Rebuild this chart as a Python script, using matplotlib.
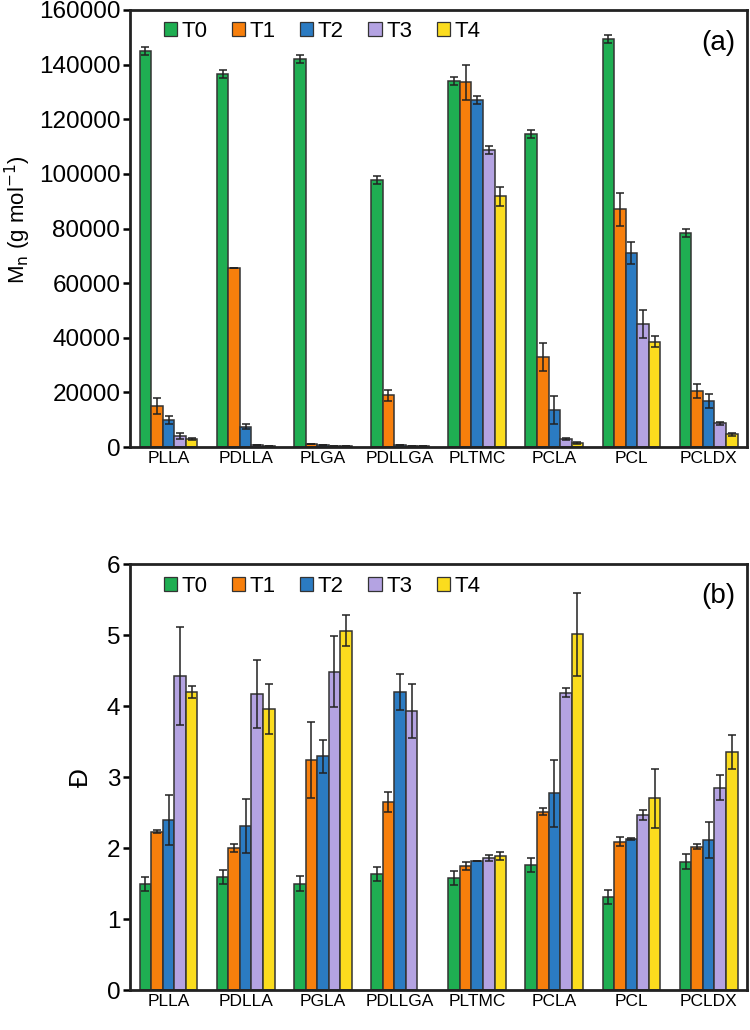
import numpy as np
import matplotlib
matplotlib.use("Agg")
import matplotlib.pyplot as plt

plt.rcParams['font.family'] = ['Liberation Sans', 'DejaVu Sans']

# data
series = ["T0", "T1", "T2", "T3", "T4"]
colors = ["#1fae52", "#f77f0c", "#2b7bc2", "#b4a3e2", "#fbdc1e"]

mn_groups = ["PLLA", "PDLLA", "PLGA", "PDLLGA", "PLTMC", "PCLA", "PCL", "PCLDX"]
mn_vals = [
    [145000, 136500, 142000, 97700, 134000, 114600, 149300, 78300],   # T0
    [15000, 65500, 1200, 19000, 133500, 33000, 87000, 20500],          # T1
    [9800, 7500, 900, 600, 127000, 13500, 71000, 16800],               # T2
    [4000, 600, 500, 300, 108700, 2900, 45000, 8700],                  # T3
    [3000, 300, 300, 200, 91800, 1500, 38500, 4700],                   # T4
]
mn_err = [
    [1500, 1500, 1500, 1500, 1500, 1500, 1500, 1500],
    [3000, 0, 0, 2000, 6500, 5000, 6000, 2500],
    [1500, 1000, 0, 0, 1500, 5000, 4000, 2500],
    [1000, 0, 0, 0, 1500, 500, 5000, 500],
    [300, 0, 0, 0, 3500, 300, 2000, 500],
]

d_groups = ["PLLA", "PDLLA", "PGLA", "PDLLGA", "PLTMC", "PCLA", "PCL", "PCLDX"]
d_vals = [
    [1.49, 1.59, 1.50, 1.63, 1.58, 1.76, 1.31, 1.81],
    [2.23, 2.00, 3.24, 2.65, 1.75, 2.51, 2.09, 2.02],
    [2.39, 2.31, 3.29, 4.20, 1.82, 2.77, 2.13, 2.11],
    [4.42, 4.17, 4.48, 3.93, 1.86, 4.19, 2.46, 2.85],
    [4.20, 3.96, 5.06, np.nan, 1.89, 5.01, 2.70, 3.35],
]
d_err = [
    [0.10, 0.10, 0.10, 0.10, 0.10, 0.10, 0.10, 0.10],
    [0.02, 0.06, 0.54, 0.14, 0.06, 0.05, 0.06, 0.03],
    [0.35, 0.38, 0.23, 0.25, 0.00, 0.47, 0.01, 0.25],
    [0.69, 0.48, 0.50, 0.38, 0.04, 0.06, 0.07, 0.18],
    [0.08, 0.35, 0.22, 0.00, 0.06, 0.58, 0.42, 0.24],
]

fig = plt.figure(figsize=(7.5, 10.3), dpi=100)
ax1 = fig.add_axes([0.1733, 0.566, 0.823, 0.4243])
ax2 = fig.add_axes([0.1733, 0.0388, 0.823, 0.4136])

width = 0.15


def draw(ax, groups, vals, errs, ymax, yticks, tag):
    x = np.arange(len(groups))
    for i, s in enumerate(series):
        pos = x + (i - 2) * width
        ax.bar(pos, vals[i], width, color=colors[i], edgecolor="#333333",
               linewidth=1.1, label=s, zorder=2)
        ax.errorbar(pos, vals[i], yerr=errs[i], fmt="none", ecolor="#222222",
                    elinewidth=1.1, capsize=3, capthick=1.1, zorder=3)
    ax.set_xlim(-0.5, len(groups) - 0.5)
    ax.set_ylim(0, ymax)
    ax.set_yticks(yticks)
    ax.set_xticks(x)
    ax.set_xticklabels(groups, fontsize=12.5)
    ax.tick_params(axis="x", length=0, pad=3)
    ax.tick_params(axis="y", labelsize=17.5, length=5, width=1.8, pad=2)
    for sp in ax.spines.values():
        sp.set_linewidth(2.0)
        sp.set_color("#222222")
    leg = ax.legend(loc="upper left", bbox_to_anchor=(0.022, 1.02), ncol=5,
                    frameon=False, fontsize=16, handlelength=0.6,
                    handleheight=0.6, handletextpad=0.2, columnspacing=1.1)
    for h in leg.legend_handles:
        h.set_linewidth(0.9)
    ax.text(0.98, 0.955, tag, transform=ax.transAxes, ha="right", va="top",
            fontsize=20)


draw(ax1, mn_groups, mn_vals, mn_err, 160000,
     np.arange(0, 160001, 20000), "(a)")
ax1.set_ylabel("M$_\\mathrm{n}$ (g mol$^\\mathrm{-1}$)", fontsize=16)
ax1.yaxis.set_label_coords(-0.157, 0.52)

draw(ax2, d_groups, d_vals, d_err, 6, np.arange(0, 7, 1), "(b)")
ax2.set_ylabel("Đ", fontsize=19, labelpad=10)

fig.savefig("out.png", dpi=100)
